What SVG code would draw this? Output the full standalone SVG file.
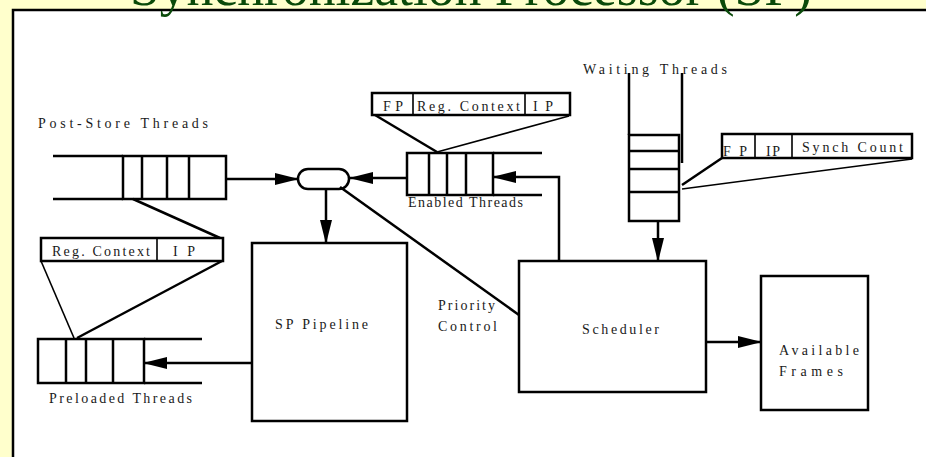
<svg xmlns="http://www.w3.org/2000/svg" width="926" height="457" viewBox="0 0 926 457">
<defs>
<style>
.ln{stroke:#000;stroke-width:2.5;fill:none;stroke-linejoin:miter}
.thin{stroke:#000;stroke-width:1.6;fill:none}
.box{stroke:#000;stroke-width:2.5;fill:#fff}
.t{font-family:"Liberation Serif","Times New Roman",serif;fill:#1a1a1a;font-size:14px}
.arr{marker-end:url(#ah)}
</style>
<marker id="ah" markerUnits="userSpaceOnUse" markerWidth="24" markerHeight="14" viewBox="0 0 24 14" refX="23" refY="7" orient="auto">
<path d="M0,1 L24,7 L0,13 z" fill="#000"/>
</marker>
</defs>
<rect x="0" y="0" width="926" height="457" fill="#FFFFCC"/>
<rect x="13" y="10" width="930" height="470" fill="#fff" stroke="#000" stroke-width="2.5"/>
<text x="130" y="5" font-family="Liberation Serif,'Times New Roman',serif" font-size="54" fill="#0a4a0a" textLength="682" lengthAdjust="spacingAndGlyphs">Synchronization Processor (SP)</text>

<g id="post-store-queue">
<path class="ln" d="M53,156H123M53,199H123"/>
<rect class="box" x="123" y="156" width="103" height="43"/>
<path class="ln" d="M142,156V199M167,156V199M189,156V199"/>
<text class="t" x="38" y="128" font-size="15" textLength="170">Post-Store Threads</text>
</g>

<g id="post-store-format">
<rect class="box" x="41" y="238" width="182" height="23"/>
<path class="thin" d="M157,238V261"/>
<text class="t" x="52" y="256" font-size="13" textLength="98">Reg. Context</text>
<text class="t" x="173" y="256" font-size="13" textLength="22">IP</text>
</g>

<g id="preloaded-queue">
<rect class="box" x="38" y="339" width="106" height="44"/>
<path class="ln" d="M66,339V383M86,339V383M113,339V383M144,339H202M144,383H202"/>
<text class="t" x="49" y="403" font-size="15" textLength="143">Preloaded Threads</text>
</g>

<g id="selector">
<rect class="box" x="298" y="169" width="51" height="20" rx="10" ry="10"/>
</g>

<g id="sp-pipeline">
<rect class="box" x="252" y="243" width="155" height="178"/>
<text class="t" x="275" y="329" font-size="15" textLength="93">SP Pipeline</text>
</g>

<g id="enabled-format">
<rect class="box" x="372" y="93" width="198" height="22"/>
<path class="thin" d="M413,93V115M525,93V115"/>
<text class="t" x="383" y="111" font-size="13" textLength="20">FP</text>
<text class="t" x="417" y="111" font-size="13" textLength="103">Reg. Context</text>
<text class="t" x="533" y="111" font-size="13" textLength="20">IP</text>
</g>

<g id="enabled-queue">
<rect class="box" x="407" y="153" width="86" height="42"/>
<path class="ln" d="M429,153V195M447,153V195M466,153V195M493,153H542M493,195H542"/>
<text class="t" x="408" y="207" font-size="14" textLength="115">Enabled Threads</text>
</g>

<g id="waiting-queue">
<path class="ln" d="M629,73V135M682,73V163"/>
<rect class="box" x="629" y="135" width="50" height="86"/>
<path class="ln" d="M629,151H679M629,169H679M629,192H679"/>
<text class="t" x="583" y="74" font-size="14" textLength="144">Waiting Threads</text>
</g>

<g id="waiting-format">
<rect class="box" x="722" y="134" width="190" height="24"/>
<path class="thin" d="M755,134V158M792,134V158"/>
<text class="t" x="723" y="156" font-size="14" textLength="24">FP</text>
<text class="t" x="766" y="156" font-size="14" textLength="14">IP</text>
<text class="t" x="802" y="152" font-size="14" textLength="101">Synch Count</text>
</g>

<g id="scheduler">
<rect class="box" x="519" y="261" width="187" height="131"/>
<text class="t" x="582" y="334" font-size="15" textLength="77">Scheduler</text>
</g>

<g id="available-frames">
<rect class="box" x="761" y="276" width="107" height="134"/>
<text class="t" x="779" y="355" font-size="15" textLength="80">Available</text>
<text class="t" x="779" y="376" font-size="15" textLength="64">Frames</text>
</g>

<g id="priority-label">
<text class="t" x="438" y="310" font-size="14" textLength="57">Priority</text>
<text class="t" x="438" y="331" font-size="14" textLength="59">Control</text>
</g>

<g id="connectors">
<path class="ln arr" d="M226,179H298"/>
<path class="ln arr" d="M407,178H350"/>
<path class="ln arr" d="M326,189V243"/>
<path class="ln arr" d="M559,261V177H493"/>
<path class="ln arr" d="M658,221V261"/>
<path class="ln arr" d="M706,342H761"/>
<path class="ln arr" d="M252,363H144"/>
<path class="ln" d="M340,187L519,315"/>
<path class="ln" d="M133,199L220,238"/>
<path class="thin" d="M41,261L74,338"/>
<path class="ln" d="M222,261L77,338"/>
<path class="ln" d="M375,115L437,152"/>
<path class="thin" d="M569,116L437,152"/>
<path class="ln" d="M722,158L682,185"/>
<path class="thin" d="M912,159L682,189"/>
</g>
</svg>
